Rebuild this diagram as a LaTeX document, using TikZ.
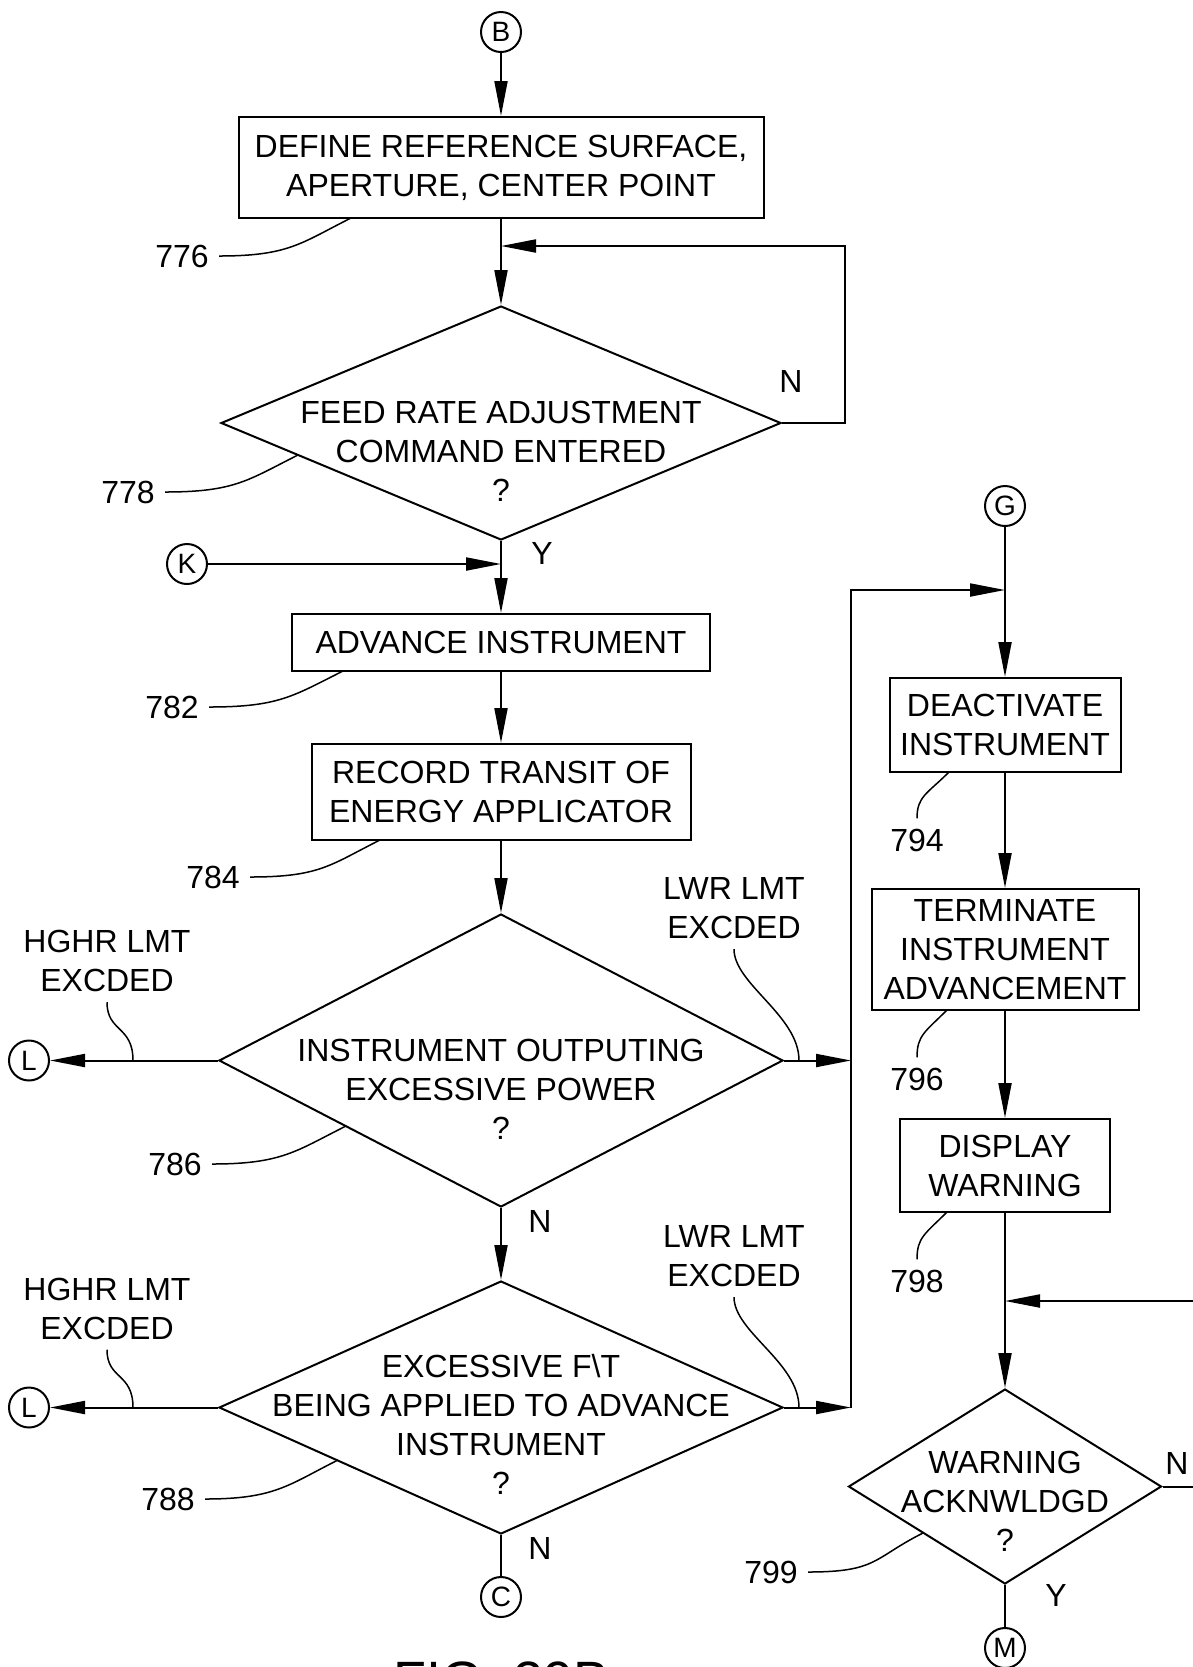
\documentclass[tikz,border=0pt]{standalone}
\usepackage{fontspec}
\setmainfont{Liberation Sans}
\usetikzlibrary{shapes.geometric,arrows.meta}
\newcommand{\dtext}[2]{\makebox[0pt]{\raisebox{#1}[0pt][0pt]{\begin{tabular}{@{}c@{}}#2\end{tabular}}}}
\begin{document}
\begin{tikzpicture}[x=0.5pt,y=-0.5pt,
 every node/.style={font=\fontsize{16}{19.5}\selectfont},
 box/.style={draw, line width=1pt, align=center, inner sep=0pt},
 dia/.style={draw, diamond, line width=1pt, inner sep=0pt},
 conn/.style={draw, circle, line width=1pt, minimum size=20pt, inner sep=0pt, font=\fontsize{14}{16}\selectfont},
 arr/.style={line width=1pt, -{Triangle[length=17.5pt,width=6.5pt]}},
 plainline/.style={line width=1pt},
 lead/.style={line width=0.75pt},
 refno/.style={inner sep=5pt},
 yn/.style={inner sep=0pt},
 lim/.style={align=center, inner sep=5pt}]
\useasboundingbox (0,0) rectangle (1193,1667);
\clip (0,0) rectangle (1193,1667);

% left column
\node[conn] (B) at (501,32) {B};
\node[box, minimum width=262.5pt, minimum height=50.5pt] (b776) at (501,167.5) {DEFINE REFERENCE SURFACE,\\APERTURE, CENTER POINT};
\node[dia, minimum width=280pt, minimum height=117pt] (d778) at (501,423) {\dtext{-20pt}{FEED RATE ADJUSTMENT\\COMMAND ENTERED\\?}};
\coordinate (j1) at (501,246);
\coordinate (r1) at (845,246);
\node[conn] (K) at (187,564) {K};
\coordinate (j2) at (501,564);
\node[box, minimum width=209pt, minimum height=28.5pt] (b782) at (501,642.5) {ADVANCE INSTRUMENT};
\node[box, minimum width=189.5pt, minimum height=48pt] (b784) at (501,792) {RECORD TRANSIT OF\\ENERGY APPLICATOR};
\node[dia, minimum width=282pt, minimum height=146.5pt] (d786) at (501,1060.5) {\dtext{-20.3pt}{INSTRUMENT OUTPUTING\\EXCESSIVE POWER\\?}};
\node[dia, minimum width=282pt, minimum height=126.5pt] (d788) at (501,1407.5) {\dtext{-14.8pt}{EXCESSIVE F\textbackslash T\\BEING APPLIED TO ADVANCE\\INSTRUMENT\\?}};
\node[conn] (L1) at (29,1060.5) {L};
\node[conn] (L2) at (29,1407.5) {L};
\node[conn] (C) at (501,1597) {C};
\coordinate (j3) at (851,1060.5);
\coordinate (j4) at (851,1407.5);
\coordinate (r2) at (851,590);
\coordinate (j5) at (1005,590);

% right column
\node[conn] (G) at (1005,506) {G};
\node[box, minimum width=115.5pt, minimum height=47pt] (b794) at (1005,725) {DEACTIVATE\\INSTRUMENT};
\node[box, minimum width=133.5pt, minimum height=60.5pt] (b796) at (1005,949.5) {TERMINATE\\INSTRUMENT\\ADVANCEMENT};
\node[box, minimum width=105pt, minimum height=46.5pt] (b798) at (1005,1165.5) {DISPLAY\\WARNING};
\coordinate (j6) at (1005,1301);
\coordinate (r3) at (1230,1301);
\node[dia, minimum width=156.5pt, minimum height=97.5pt] (d799) at (1005,1486.5) {\dtext{-13.3pt}{WARNING\\ACKNWLDGD\\?}};
\node[conn] (M) at (1005,1648) {M};

% connectors
\draw[arr] (B) -- (b776);
\draw[arr] (b776) -- (d778);
\draw[arr] (d778.east) -| (r1) -- (j1);
\draw[arr] (d778) -- (b782);
\draw[arr] (K) -- (j2);
\draw[arr] (b782) -- (b784);
\draw[arr] (b784) -- (d786);
\draw[arr] (d786) -- (d788);
\draw[arr] (d786) -- (L1);
\draw[arr] (d788) -- (L2);
\draw[plainline] (d788) -- (C);
\draw[arr] (d786.east) -- (j3);
\draw[arr] (d788.east) -- (j4);
\draw[arr] (j4) -- (r2) -- (j5);
\draw[arr] (G) -- (b794);
\draw[arr] (b794) -- (b796);
\draw[arr] (b796) -- (b798);
\draw[arr] (b798) -- (d799);
\draw[arr] (d799.east) -| (r3) -- (j6);
\draw[plainline] (d799) -- (M);

% Y / N labels
\node[yn] (n1) at (791,381) {N};
\node[yn] (y1) at (542,553) {Y};
\node[yn] (n2) at (540,1221) {N};
\node[yn] (n3) at (540,1548) {N};
\node[yn] (n4) at (1177,1463) {N};
\node[yn] (y2) at (1056,1595) {Y};

% limit labels
\node[lim] (hl1) at (107,961) {HGHR LMT\\EXCDED};
\node[lim] (hl2) at (107,1308.5) {HGHR LMT\\EXCDED};
\node[lim] (ll1) at (734,908) {LWR LMT\\EXCDED};
\node[lim] (ll2) at (734,1256) {LWR LMT\\EXCDED};
\coordinate (q1) at (133,1060.5);
\coordinate (q2) at (133,1407.5);
\coordinate (q3) at (799,1060.5);
\coordinate (q4) at (799,1407.5);
\draw[lead] (hl1.south) .. controls +(0,30) and +(0,-35) .. (q1);
\draw[lead] (hl2.south) .. controls +(0,30) and +(0,-35) .. (q2);
\draw[lead] (ll1.south) .. controls +(0,35) and +(0,-45) .. (q3);
\draw[lead] (ll2.south) .. controls +(0,35) and +(0,-45) .. (q4);

% reference numerals
\node[refno] (l776) at (182,256) {776};
\node[refno] (l778) at (128,492) {778};
\node[refno] (l782) at (172,707) {782};
\node[refno] (l784) at (213,877) {784};
\node[refno] (l786) at (175,1164) {786};
\node[refno] (l788) at (168,1499) {788};
\node[refno] (l799) at (771,1572) {799};
\node[refno] (l794) at (917,840) {794};
\node[refno] (l796) at (917,1079) {796};
\node[refno] (l798) at (917,1281) {798};
\coordinate (c776) at (351,218);
\coordinate (c778) at (298,455);
\coordinate (c782) at (343,671);
\coordinate (c784) at (380,840);
\coordinate (c786) at (346,1126);
\coordinate (c788) at (338,1460);
\coordinate (c799) at (923,1533);
\coordinate (c794) at (949,772);
\coordinate (c796) at (947,1010);
\coordinate (c798) at (947,1212);
\foreach \n in {776,778,782,784,786,788,799}{
  \draw[lead] (l\n.east) .. controls +(70,0) and +(-50,25) .. (c\n);
}
\foreach \n in {794,796,798}{
  \draw[lead] (l\n.north) .. controls +(0,-22) and +(-22,22) .. (c\n);
}

\node[anchor=base, font=\fontsize{27}{32}\selectfont] (fig) at (502,1699) {FIG. 29B};
\end{tikzpicture}
\end{document}
